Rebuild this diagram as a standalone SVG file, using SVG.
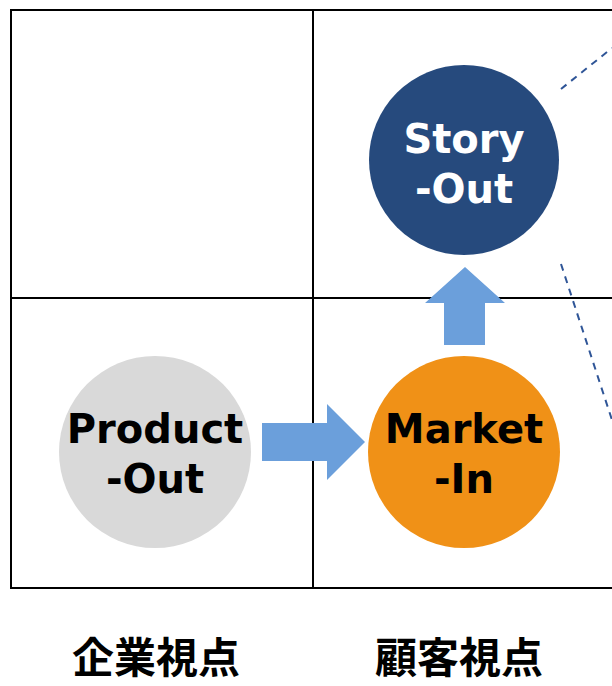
<svg xmlns="http://www.w3.org/2000/svg" width="612" height="686" viewBox="0 0 612 686">
<style>
.grid{fill:none;stroke:#000;stroke-width:2}
.lbl{font-family:"DejaVu Sans",Verdana,sans-serif;font-weight:bold;font-size:40px;text-anchor:middle}
.jp{font-family:"Noto Sans CJK JP",sans-serif;font-weight:bold;font-size:42px;text-anchor:middle;fill:#000}
.arrow{fill:#6B9FDB}
.dash{stroke:#2F5597;stroke-width:2;stroke-dasharray:7 6;fill:none}
</style>
<rect width="612" height="686" fill="#fff"/>
<g id="grid">
<rect class="grid" x="11" y="10" width="640" height="578"/>
<line class="grid" x1="313" y1="10" x2="313" y2="588"/>
<line class="grid" x1="11" y1="298" x2="612" y2="298"/>
</g>
<g id="connectors">
<polygon class="arrow" points="262,423 327,423 327,404 365,442 327,480 327,461 262,461"/>
<polygon class="arrow" points="444,345 444,303 425,303 465,267 505,303 485,303 485,345"/>
<line class="dash" x1="561" y1="89" x2="612" y2="48"/>
<line class="dash" x1="561" y1="264" x2="612" y2="420"/>
</g>
<g id="story-out">
<circle cx="464" cy="160" r="95" fill="#264A7D"/>
<text class="lbl" x="464" y="153" fill="#fff">Story</text>
<text class="lbl" x="464" y="203" fill="#fff">-Out</text>
</g>
<g id="market-in">
<circle cx="464" cy="452" r="96" fill="#F09117"/>
<text class="lbl" x="464" y="443" fill="#000">Market</text>
<text class="lbl" x="464" y="493" fill="#000">-In</text>
</g>
<g id="product-out">
<circle cx="155" cy="452" r="96" fill="#D9D9D9"/>
<text class="lbl" x="155" y="443" fill="#000">Product</text>
<text class="lbl" x="155" y="493" fill="#000">-Out</text>
</g>
<g id="axis-labels">
<text class="jp" x="156" y="673">企業視点</text>
<text class="jp" x="459" y="673">顧客視点</text>
</g>
</svg>
